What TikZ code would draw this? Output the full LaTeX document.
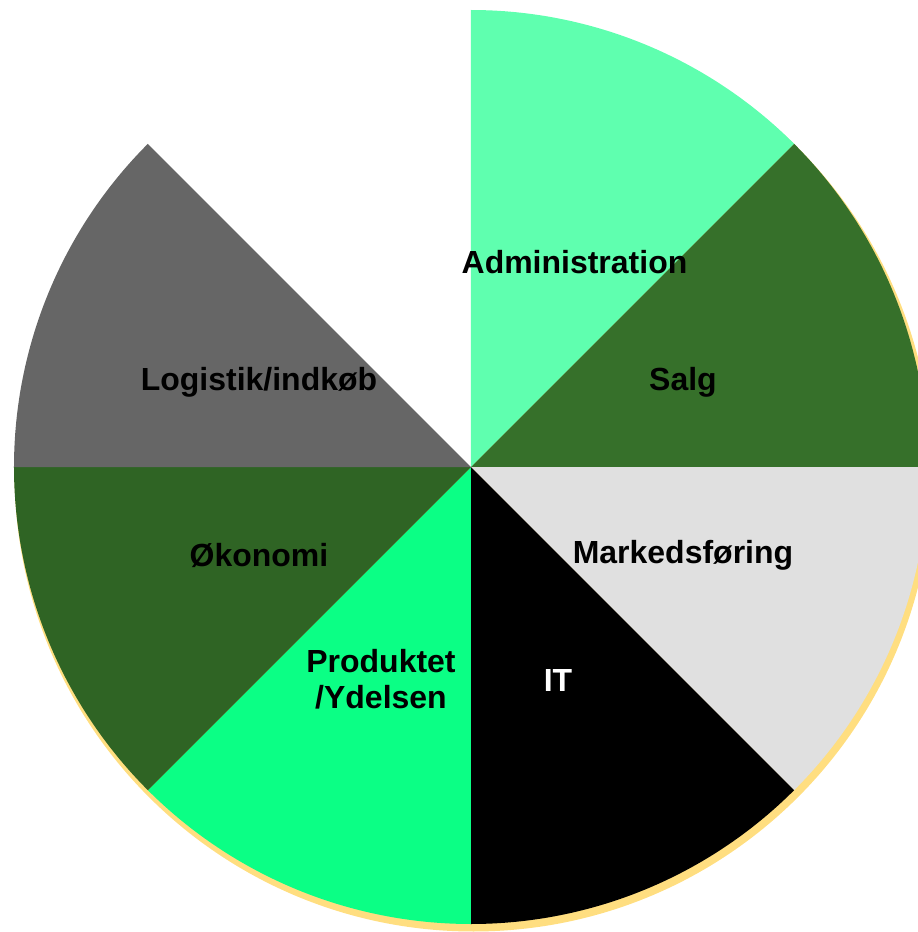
\documentclass[tikz,border=0pt]{standalone}
\usepackage{fontspec}
\setmainfont{Liberation Sans}
\usepackage{tikz}

\definecolor{admgreen}{RGB}{95,255,175}
\definecolor{salggreen}{RGB}{54,112,42}
\definecolor{okogreen}{RGB}{47,100,36}
\definecolor{prodgreen}{RGB}{11,255,133}
\definecolor{loggray}{RGB}{102,102,102}
\definecolor{markgray}{RGB}{224,224,224}
\definecolor{shadowgold}{RGB}{255,222,128}

\begin{document}
\begin{tikzpicture}[lbl/.style={font=\bfseries\fontsize{9.1}{10.2}\selectfont,align=center,inner sep=0pt}]
	\useasboundingbox (-4.71,-4.65) rectangle (4.47,4.67);
	\fill[shadowgold] ([shift={(0.025,-0.055)}]0,0) -- ++(90:4.59) arc[start angle=90,end angle=-225,radius=4.59] -- cycle;
	\fill[admgreen] (0,0) -- (90:4.57) arc[start angle=90,end angle=45,radius=4.57] -- cycle;
	\fill[salggreen] (0,0) -- (45:4.57) arc[start angle=45,end angle=0,radius=4.57] -- cycle;
	\fill[markgray] (0,0) -- (0:4.57) arc[start angle=0,end angle=-45,radius=4.57] -- cycle;
	\fill[black] (0,0) -- (-45:4.57) arc[start angle=-45,end angle=-90,radius=4.57] -- cycle;
	\fill[prodgreen] (0,0) -- (-90:4.57) arc[start angle=-90,end angle=-135,radius=4.57] -- cycle;
	\fill[okogreen] (0,0) -- (-135:4.57) arc[start angle=-135,end angle=-180,radius=4.57] -- cycle;
	\fill[loggray] (0,0) -- (180:4.57) arc[start angle=180,end angle=135,radius=4.57] -- cycle;
	\node[lbl] (Adm) at (1.035,2.05) {Administration};
	\node[lbl] (Salg) at (2.12,0.85) {Salg};
	\node[lbl] (Mark) at (2.12,-0.88) {Markedsføring};
	\node[lbl,text=white] (IT) at (0.87,-2.13) {IT};
	\node[lbl] (Prod) at (-0.90,-2.12) {Produktet\\/Ydelsen};
	\node[lbl] (Oko) at (-2.12,-0.88) {Økonomi};
	\node[lbl] (Log) at (-2.12,0.85) {Logistik/indkøb};
\end{tikzpicture}
\end{document}
